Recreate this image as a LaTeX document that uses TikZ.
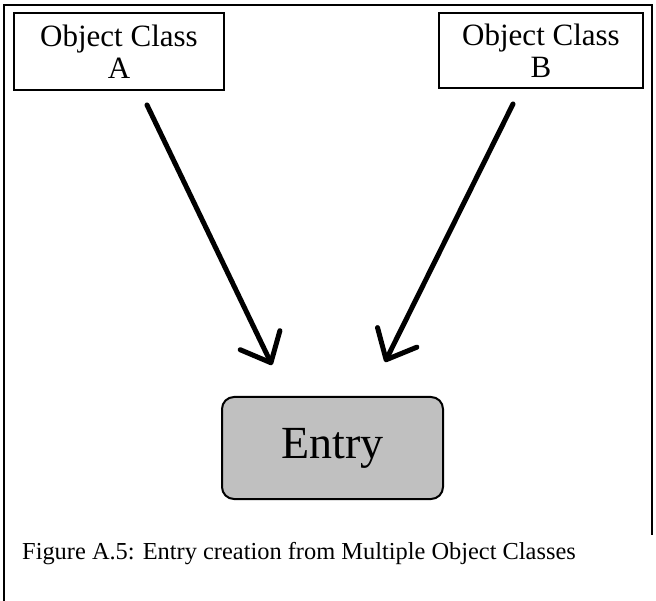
\documentclass[tikz,border=0pt]{standalone}
\usepackage{fontspec}
\setmainfont{Liberation Serif}
\usetikzlibrary{arrows.meta}
\begin{document}
\begin{tikzpicture}[x=1pt,y=-1pt,
  classbox/.style={draw=black,line width=2pt,fill=white,minimum width=210pt,minimum height=77pt,inner sep=0pt,align=center,font=\fontsize{31}{32}\selectfont},
  entrybox/.style={draw=black,line width=2pt,fill={rgb,255:red,192;green,192;blue,192},rounded corners=12pt,minimum width=221pt,minimum height=102pt,inner sep=0pt,font=\fontsize{46}{50}\selectfont},
  conn/.style={line width=5pt,line cap=round,line join=round,-{Straight Barb[length=25pt,width=44pt,line width=5pt,round]}},
  frame/.style={line width=2.5pt,line cap=butt}]
\useasboundingbox (0,0) rectangle (656,601);
\draw[frame] (4,601) -- (4,5) -- (652,5) -- (652,535);
\node[classbox] (a) at (119,52) {Object Class\\A};
\node[classbox,minimum width=204pt,minimum height=75pt] (b) at (541,50.5) {Object Class\\B};
\node[entrybox] (e) at (332.5,448) {Entry};
\coordinate (as) at (147,105);
\coordinate (at) at (272,365);
\coordinate (bs) at (513,104);
\coordinate (bt) at (385,362);
\draw[conn] (as) -- (at);
\draw[conn] (bs) -- (bt);
\node[font=\fontsize{24.4}{26}\selectfont,anchor=base west,inner sep=0pt] (cap) at (22,559) {Figure A.5: Entry creation from Multiple Object Classes};
\end{tikzpicture}
\end{document}
